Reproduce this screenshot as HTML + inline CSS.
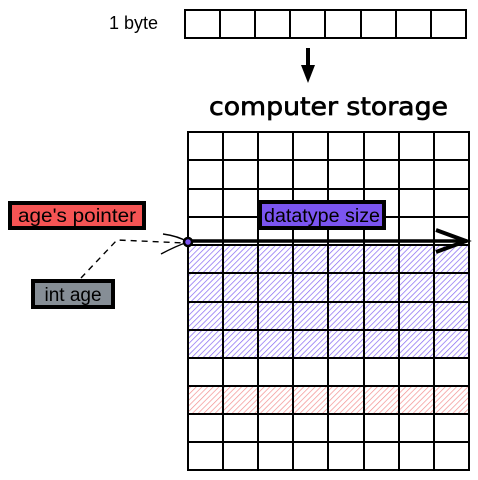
<!DOCTYPE html>
<html><head><meta charset="utf-8"><style>
html,body{margin:0;padding:0;background:#fff;}
svg{display:block;}
</style></head><body>
<svg width="478" height="480" viewBox="0 0 478 480" xmlns="http://www.w3.org/2000/svg">
<defs>
<pattern id="hb" patternUnits="userSpaceOnUse" width="4" height="4" patternTransform="rotate(45)">
<line x1="0" y1="0" x2="0" y2="4" stroke="#8466f2" stroke-width="1.4"/>
</pattern>
<pattern id="hr" patternUnits="userSpaceOnUse" width="4" height="4" patternTransform="rotate(45)">
<line x1="0" y1="0" x2="0" y2="4" stroke="#f39090" stroke-width="1.4"/>
</pattern>
</defs>
<text x="158" y="29" font-family="Liberation Sans, sans-serif" font-size="18" text-anchor="end">1 byte</text>
<g stroke="#000" stroke-width="2" fill="none">
<rect x="185" y="10" width="281" height="28"/>
<line x1="220" y1="10" x2="220" y2="38"/><line x1="255" y1="10" x2="255" y2="38"/>
<line x1="290" y1="10" x2="290" y2="38"/><line x1="325" y1="10" x2="325" y2="38"/>
<line x1="361" y1="10" x2="361" y2="38"/><line x1="396" y1="10" x2="396" y2="38"/>
<line x1="431" y1="10" x2="431" y2="38"/>
</g>
<line x1="308" y1="48" x2="308" y2="70" stroke="#000" stroke-width="4"/>
<path d="M301 65 L315 65 L308 83 Z" fill="#000"/>
<text x="209" y="115" font-family="DejaVu Sans, sans-serif" font-size="25" stroke="#000" stroke-width="0.7" textLength="239" lengthAdjust="spacingAndGlyphs">computer storage</text>
<rect x="188" y="245" width="281" height="113" fill="url(#hb)"/>
<rect x="188" y="386" width="281" height="28" fill="url(#hr)"/>
<g stroke="#000" stroke-width="2" fill="none">
<rect x="188" y="132" width="281" height="338"/>
<line x1="223" y1="132" x2="223" y2="470"/><line x1="258" y1="132" x2="258" y2="470"/>
<line x1="293" y1="132" x2="293" y2="470"/><line x1="328" y1="132" x2="328" y2="470"/>
<line x1="364" y1="132" x2="364" y2="470"/><line x1="399" y1="132" x2="399" y2="470"/>
<line x1="434" y1="132" x2="434" y2="470"/>
<line x1="188" y1="160" x2="469" y2="160"/><line x1="188" y1="189" x2="469" y2="189"/>
<line x1="188" y1="217" x2="469" y2="217"/><line x1="188" y1="245" x2="469" y2="245"/>
<line x1="188" y1="273" x2="469" y2="273"/><line x1="188" y1="302" x2="469" y2="302"/>
<line x1="188" y1="330" x2="469" y2="330"/><line x1="188" y1="358" x2="469" y2="358"/>
<line x1="188" y1="386" x2="469" y2="386"/><line x1="188" y1="414" x2="469" y2="414"/>
<line x1="188" y1="442" x2="469" y2="442"/>
</g>
<rect x="10" y="203" width="134" height="25" fill="#f55454" stroke="#000" stroke-width="4"/>
<text x="77" y="222" font-family="Liberation Sans, sans-serif" font-size="19" text-anchor="middle" textLength="118" lengthAdjust="spacingAndGlyphs">age's pointer</text>
<rect x="260" y="202" width="124" height="26" fill="#7b55f0" stroke="#000" stroke-width="4"/>
<text x="322" y="222" font-family="Liberation Sans, sans-serif" font-size="19" text-anchor="middle" textLength="116" lengthAdjust="spacingAndGlyphs">datatype size</text>
<rect x="33" y="281" width="80" height="26" fill="#868e96" stroke="#000" stroke-width="4"/>
<text x="73" y="301" font-family="Liberation Sans, sans-serif" font-size="19" text-anchor="middle">int age</text>
<line x1="188" y1="241" x2="467" y2="241" stroke="#000" stroke-width="3.5"/>
<path d="M436 230 L466 241 L436 252" stroke="#000" stroke-width="4" fill="none"/>
<path d="M81 278 L117 240 L185 243" stroke="#000" stroke-width="1.4" stroke-dasharray="6,5" fill="none"/>
<path d="M163 234 Q178 236 188 242 Q176 246 161 254" stroke="#000" stroke-width="1.4" fill="none"/>
<circle cx="188" cy="242" r="4" fill="#7b55f0" stroke="#000" stroke-width="2.5"/>
</svg>
</body></html>
